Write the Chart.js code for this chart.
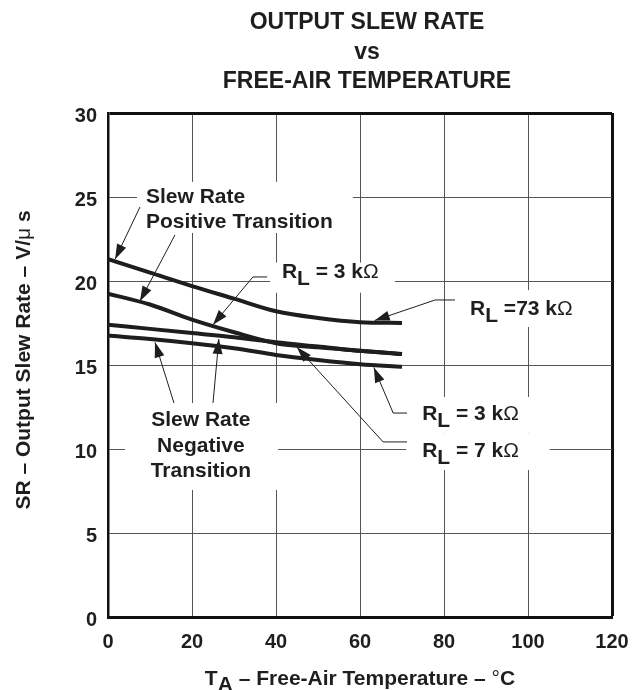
<!DOCTYPE html>
<html>
<head>
<meta charset="utf-8">
<script src="https://cdn.jsdelivr.net/npm/chart.js@4.4.1/dist/chart.umd.min.js"></script>
<style>
  html, body { margin: 0; padding: 0; background: #fff; }
  #wrap { width: 634px; height: 690px; }
</style>
</head>
<body>
<div id="wrap"><canvas id="myChart" width="634" height="690"></canvas></div>
<script>
// free-air temperature, degC
const temps = [0, 10, 20, 30, 40, 50, 60, 70];
// slew rate, V/us
const posRl73 = [21.3, 20.5, 19.7, 18.95, 18.2, 17.8, 17.55, 17.5];
const posRl3 = [19.25, 18.6, 17.7, 16.95, 16.3, 16.05, 15.85, 15.65];
const negRl7 = [17.4, 17.15, 16.9, 16.65, 16.35, 16.1, 15.85, 15.65];
const negRl3 = [16.75, 16.55, 16.3, 16.0, 15.6, 15.3, 15.05, 14.9];

const xTicks = [0, 20, 40, 60, 80, 100, 120];
const yTicks = [0, 5, 10, 15, 20, 25, 30];

const titleLines = ["OUTPUT SLEW RATE", "vs", "FREE-AIR TEMPERATURE"];

const BOLD = "bold 21px 'Liberation Sans', Arial, sans-serif";
const REG = "21px 'Liberation Sans', Arial, sans-serif";
const INK = "#1e1e1e";

// label boxes (white) that break the grid, in data units [x1, y1, x2, y2]
const boxes = [
  [6.9, 25.9, 58.3, 22.86],
  [38.6, 21.1, 68.3, 19.3],
  [83.3, 19.46, 113.6, 17.26],
  [71.9, 13.1, 105.2, 11.0],
  [71.0, 11.0, 105.2, 8.75],
  [4.05, 12.74, 40.5, 7.56]
];

const rl = (val) => [
  { t: "R", f: BOLD },
  { t: "L", f: BOLD, dy: 7 },
  { t: val, f: BOLD },
  { t: "\u03A9", f: REG }
];

// text notes, anchor in data units
const notes = [
  { x: 9.05, y: 24.64, align: "left", runs: [{ t: "Slew Rate", f: BOLD }] },
  { x: 9.05, y: 23.15, align: "left", runs: [{ t: "Positive Transition", f: BOLD }] },
  { x: 41.4, y: 20.18, align: "left", runs: rl(" = 3 k") },
  { x: 86.2, y: 17.98, align: "left", runs: rl(" =73 k") },
  { x: 74.8, y: 11.73, align: "left", runs: rl(" = 3 k") },
  { x: 74.8, y: 9.52, align: "left", runs: rl(" = 7 k") },
  { x: 22.1, y: 11.37, align: "center", runs: [{ t: "Slew Rate", f: BOLD }] },
  { x: 22.1, y: 9.82, align: "center", runs: [{ t: "Negative", f: BOLD }] },
  { x: 22.1, y: 8.33, align: "center", runs: [{ t: "Transition", f: BOLD }] }
];

// leader lines: points in data units, last point is the arrow tip
const leaders = [
  [[7.6, 24.4], [1.7, 21.3]],
  [[15.95, 22.74], [7.6, 18.8]],
  [[37.9, 20.24], [34.5, 20.24], [25, 17.4]],
  [[82.6, 18.87], [77.9, 18.87], [63.5, 17.65]],
  [[71.2, 12.14], [67.9, 12.14], [63.3, 14.85]],
  [[71.2, 10.42], [65.5, 10.42], [45, 16.05]],
  [[15.7, 12.74], [11.2, 16.35]],
  [[25, 12.74], [26.4, 16.55]]
];

const drawRuns = (ctx, runs, x, y, align) => {
  let total = 0;
  runs.forEach((r) => {
    ctx.font = r.f;
    total += ctx.measureText(r.t).width;
  });
  let cx = align === "center" ? x - total / 2 : align === "right" ? x - total : x;
  ctx.textAlign = "left";
  ctx.textBaseline = "alphabetic";
  runs.forEach((r) => {
    ctx.font = r.f;
    ctx.fillText(r.t, cx, y + (r.dy || 0));
    cx += ctx.measureText(r.t).width;
  });
};

const arrowHead = (ctx, from, tip) => {
  const ang = Math.atan2(tip[1] - from[1], tip[0] - from[0]);
  const len = 15, half = 5;
  ctx.beginPath();
  ctx.moveTo(tip[0], tip[1]);
  ctx.lineTo(tip[0] - len * Math.cos(ang) + half * Math.sin(ang), tip[1] - len * Math.sin(ang) - half * Math.cos(ang));
  ctx.lineTo(tip[0] - len * Math.cos(ang) - half * Math.sin(ang), tip[1] - len * Math.sin(ang) + half * Math.cos(ang));
  ctx.closePath();
  ctx.fill();
};

const anotaciones = {
  id: "anotaciones",
  beforeDatasetsDraw(chart) {
    const { ctx, scales: { x, y } } = chart;
    ctx.save();
    ctx.fillStyle = "#fff";
    boxes.forEach((b) => {
      const x1 = x.getPixelForValue(b[0]), y1 = y.getPixelForValue(b[1]);
      const x2 = x.getPixelForValue(b[2]), y2 = y.getPixelForValue(b[3]);
      ctx.fillRect(x1, y1, x2 - x1, y2 - y1);
    });
    ctx.restore();
  },
  afterDraw(chart) {
    const { ctx, chartArea, scales: { x, y } } = chart;
    ctx.save();
    ctx.fillStyle = INK;
    ctx.strokeStyle = INK;

    // title
    ctx.textAlign = "center";
    ctx.textBaseline = "alphabetic";
    ctx.font = "bold 23px 'Liberation Sans', Arial, sans-serif";
    titleLines.forEach((t, i) => ctx.fillText(t, 367, 29 + i * 29.5));

    // x axis title
    drawRuns(ctx, [
      { t: "T", f: BOLD },
      { t: "A", f: BOLD, dy: 6 },
      { t: " \u2013 Free-Air Temperature \u2013 ", f: BOLD },
      { t: "\u00B0", f: REG },
      { t: "C", f: BOLD }
    ], (chartArea.left + chartArea.right) / 2, 685, "center");

    // y axis title
    ctx.save();
    ctx.translate(30, 360);
    ctx.rotate(-Math.PI / 2);
    drawRuns(ctx, [
      { t: "SR \u2013 Output Slew Rate \u2013 V/", f: BOLD },
      { t: "\u03BC", f: REG },
      { t: " s", f: BOLD }
    ], 0, 0, "center");
    ctx.restore();

    notes.forEach((n) => {
      drawRuns(ctx, n.runs, x.getPixelForValue(n.x), y.getPixelForValue(n.y), n.align);
    });

    ctx.lineWidth = 1;
    leaders.forEach((pts) => {
      const px = pts.map((p) => [x.getPixelForValue(p[0]), y.getPixelForValue(p[1])]);
      ctx.beginPath();
      px.forEach((p, i) => (i === 0 ? ctx.moveTo(p[0], p[1]) : ctx.lineTo(p[0], p[1])));
      ctx.stroke();
      arrowHead(ctx, px[px.length - 2], px[px.length - 1]);
    });
    ctx.restore();
  }
};

const serie = (vals) => vals.map((v, i) => ({ x: temps[i], y: v }));
const linea = (label, vals) => ({
  label,
  data: serie(vals),
  borderColor: INK,
  borderWidth: 4,
  pointRadius: 0,
  cubicInterpolationMode: "monotone",
  fill: false
});

const tickFont = { family: "'Liberation Sans', Arial, sans-serif", size: 20, weight: "bold" };

const config = {
  type: "line",
  data: {
    datasets: [
      linea("Positive RL = 73 k", posRl73),
      linea("Positive RL = 3 k", posRl3),
      linea("Negative RL = 7 k", negRl7),
      linea("Negative RL = 3 k", negRl3)
    ]
  },
  options: {
    responsive: false,
    animation: false,
    layout: { padding: { top: 113, right: 22, left: 0, bottom: 0 } },
    plugins: { legend: { display: false }, tooltip: { enabled: false }, title: { display: false } },
    scales: {
      x: {
        type: "linear",
        min: 0,
        max: 120,
        afterFit: (s) => { s.height = 73; s.paddingLeft = 0; s.paddingRight = 0; },
        afterBuildTicks: (s) => { s.ticks = xTicks.map((v) => ({ value: v })); },
        ticks: { font: tickFont, color: INK, padding: 13 },
        grid: {
          drawTicks: false,
          color: (c) => (c.tick && c.tick.value === 120 ? "#111" : "#555"),
          lineWidth: (c) => (c.tick && c.tick.value === 120 ? 3 : 1)
        },
        border: { display: true, color: "#111", width: 3 }
      },
      y: {
        type: "linear",
        min: 0,
        max: 30,
        afterFit: (s) => { s.width = 108; s.paddingTop = 0; s.paddingBottom = 0; },
        afterBuildTicks: (s) => { s.ticks = yTicks.map((v) => ({ value: v })); },
        ticks: { font: tickFont, color: INK, padding: 11, labelOffset: 3 },
        grid: {
          drawTicks: false,
          color: (c) => (c.tick && c.tick.value === 30 ? "#111" : "#555"),
          lineWidth: (c) => (c.tick && c.tick.value === 30 ? 3 : 1)
        },
        border: { display: true, color: "#111", width: 2.5 }
      }
    }
  },
  plugins: [anotaciones]
};

const myChart = new Chart(document.querySelector("#myChart"), config);
</script>
</body>
</html>
